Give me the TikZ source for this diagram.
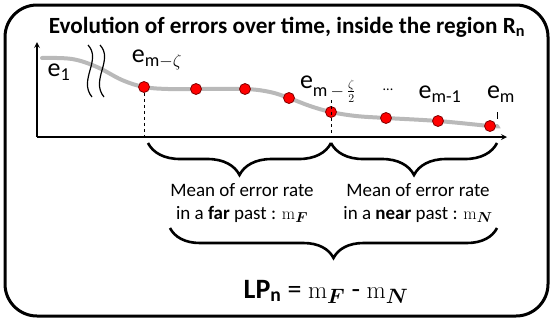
\documentclass[tikz,border=0pt]{standalone}
\usepackage{amsmath,amssymb}
\usepackage[no-math]{fontspec}
\setmainfont{Carlito}
\usepackage{tikz}
\usetikzlibrary{arrows,decorations.pathreplacing}

\tikzset{
  dot/.style={circle,fill=red,draw=red!50!black,line width=0.8pt,inner sep=0pt,minimum size=11pt},
  lbl/.style={font=\fontsize{26}{28}\selectfont,inner sep=0pt},
  txt/.style={font=\fontsize{19}{23}\selectfont,align=center,inner sep=0pt},
  brc/.style={decorate,decoration={brace,amplitude=#1},line width=2.6pt},
  brc/.default=30pt
}

\begin{document}
\begin{tikzpicture}[x=1pt,y=-1pt,>=stealth]
			\useasboundingbox (0,0) rectangle (553,322);
			
			% frame and title
			\draw[line width=3pt,rounded corners=32pt] (5,5) rectangle (548,316);
			\node[font=\fontsize{23.2}{26}\selectfont\bfseries,inner sep=0pt] (title) at (287,27)
				{Evolution of errors over time, inside the region R\textsubscript{n}};
			
			% axes
			\coordinate (O) at (37,137);
			\draw[->,line width=1.6pt] (O)--(37,42);
			\draw[->,line width=1.6pt] (O)--(507,137);
			
			% error curve
			\draw[gray!55,line width=4pt,line cap=round] plot[smooth,tension=0.6] coordinates
				{(42,58) (72,59) (97,67) (122,80) (144,87) (168,89) (196,89) (245,89) (270,92)
				(289,98) (310,106) (331,112) (356,116) (386,118) (438,121) (490,126) (497,126)};
			
			% time cut
			\draw[line width=1.2pt] (88,45) .. controls (102,60) and (78,80) .. (92,97);
			\draw[line width=1.2pt] (100,45) .. controls (114,60) and (90,80) .. (104,97);
			
			% points
			\foreach \n/\x/\y in {1/144/87,2/196/89,3/245/89,4/289/98,5/331/112,6/386/118,7/438/121,8/490/126}
				\node[dot] (d\n) at (\x,\y) {};
			
			% labels
			\node[lbl] (e1) at (59,72) {e\textsubscript{1}};
			\node[lbl] (ez) at (157,60) {e\textsubscript{m$-\zeta$}};
			\node[lbl] (ezh) at (328,89) {e\textsubscript{m\,$-$\,$\frac{\zeta}{2}$}};
			\node[lbl] (dots) at (388,90) {\fontsize{14}{14}\selectfont ...};
			\node[lbl] (em1) at (440,94) {e\textsubscript{m-1}};
			\node[lbl] (em) at (501,94) {e\textsubscript{m}};
			
			% guides
			\coordinate (a1) at (144,137);
			\coordinate (a5) at (331,137);
			\coordinate (t5) at (331,100);
			\coordinate (t8) at (497,112);
			\coordinate (b8) at (497,119);
			\draw[dashed,line width=1pt] (d1)--(a1);
			\draw[dashed,line width=1pt] (t5)--(a5);
			\draw[line width=1pt] (t8)--(b8);
			
			% braces
			\coordinate (bl) at (148,143);
			\coordinate (bm) at (331,143);
			\coordinate (br) at (497,143);
			\draw[brc=32pt] (bm)--(bl);
			\draw[brc=32pt] (br)--(bm);
			\node[txt] (far) at (242,203) {Mean of error rate\\in a \textbf{far} past : $\mathrm{m}_{\boldsymbol{F}}$};
			\node[txt] (near) at (418,203) {Mean of error rate\\in a \textbf{near} past : $\mathrm{m}_{\boldsymbol{N}}$};
			\coordinate (cl) at (170,228);
			\coordinate (cr) at (497,228);
			\draw[brc=30pt] (cr)--(cl);
			
			\node[font=\fontsize{28}{30}\selectfont,inner sep=0pt] (lp) at (326,292)
				{\textbf{LP\textsubscript{n}} = $\mathrm{m}_{\boldsymbol{F}}$ - $\mathrm{m}_{\boldsymbol{N}}$};
		\end{tikzpicture}
\end{document}
